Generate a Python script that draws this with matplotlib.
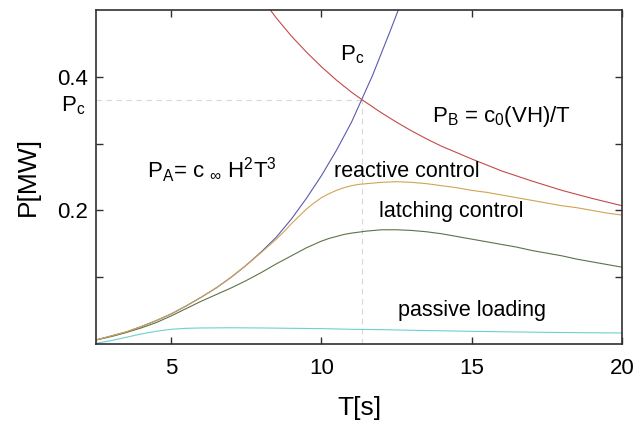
import numpy as np
import matplotlib
matplotlib.use("Agg")
import matplotlib.pyplot as plt
import matplotlib.transforms as mtransforms

plt.rcParams['font.family'] = ['Liberation Sans', 'DejaVu Sans']
plt.rcParams['mathtext.fontset'] = 'custom'
plt.rcParams['mathtext.rm'] = 'Liberation Sans'
plt.rcParams['mathtext.it'] = 'Liberation Sans'
plt.rcParams['mathtext.bf'] = 'Liberation Sans:bold'

# P_A = c H^2 T^3 (blue)
T_a = [2.5, 3.0, 3.5, 4.0, 4.5, 5.0, 5.5, 6.0, 6.5, 7.0, 7.5, 8.0, 8.5, 9.0,
       9.5, 10.0, 10.5, 11.0, 11.34, 11.7, 12.0, 12.3, 12.6, 12.8]
P_a = [0.006, 0.012, 0.018, 0.026, 0.035, 0.045, 0.057, 0.070, 0.084, 0.100,
       0.118, 0.138, 0.160, 0.187, 0.218, 0.252, 0.290, 0.332, 0.366, 0.402,
       0.436, 0.470, 0.505, 0.530]

# P_B = c0 VH / T (red)
T_b = [8.1, 8.5, 9.0, 9.5, 10.0, 10.5, 11.0, 11.34, 12.0, 12.5, 13.0, 13.5,
       14.0, 15.0, 16.0, 17.0, 18.0, 19.0, 20.0]
P_b = [0.512, 0.488, 0.461, 0.437, 0.415, 0.395, 0.377, 0.366, 0.346, 0.332,
       0.319, 0.307, 0.296, 0.277, 0.259, 0.244, 0.230, 0.218, 0.207]

# reactive control (gold)
T_r = [2.5, 3.0, 3.5, 4.0, 4.5, 5.0, 5.5, 6.0, 6.5, 7.0, 7.5, 8.0, 8.25, 8.5,
       8.75, 9.0, 9.25, 9.5, 9.75, 10.0, 10.25, 10.5, 10.75, 11.0, 11.25,
       11.5, 12.0, 12.5, 13.0, 13.5, 14.0, 14.5, 15.0, 15.5, 16.0, 16.5, 17.0,
       17.5, 18.0, 18.5, 19.0, 19.5, 20.0]
P_r = [0.006, 0.012, 0.018, 0.026, 0.035, 0.045, 0.057, 0.070, 0.084, 0.100,
       0.118, 0.137, 0.147, 0.157, 0.168, 0.180, 0.191, 0.202, 0.211, 0.219,
       0.225, 0.230, 0.234, 0.237, 0.239, 0.240, 0.242, 0.243, 0.242, 0.240,
       0.237, 0.234, 0.230, 0.227, 0.223, 0.219, 0.215, 0.211, 0.207, 0.204,
       0.200, 0.196, 0.193]

# latching control (dark green)
T_l = [2.5, 3.0, 3.5, 4.0, 4.5, 5.0, 5.5, 6.0, 6.5, 7.0, 7.5, 8.0, 8.5, 9.0,
       9.25, 9.5, 9.75, 10.0, 10.25, 10.5, 10.75, 11.0, 11.5, 12.0, 12.5,
       13.0, 13.5, 14.0, 14.5, 15.0, 15.5, 16.0, 16.5, 17.0, 17.5, 18.0, 18.5,
       19.0, 19.5, 20.0]
P_l = [0.006, 0.011, 0.017, 0.024, 0.032, 0.042, 0.053, 0.064, 0.074, 0.084,
       0.095, 0.107, 0.120, 0.132, 0.138, 0.144, 0.149, 0.154, 0.158, 0.161,
       0.164, 0.166, 0.169, 0.171, 0.171, 0.170, 0.168, 0.165, 0.161, 0.157,
       0.153, 0.149, 0.145, 0.140, 0.136, 0.132, 0.127, 0.123, 0.119, 0.115]

# passive loading (cyan)
T_p = [2.5, 3.0, 3.5, 4.0, 4.5, 5.0, 5.5, 6.0, 7.0, 8.0, 9.0, 10.0, 11.0,
       12.0, 13.0, 14.0, 15.0, 16.0, 17.0, 18.0, 19.0, 20.0]
P_p = [0.001, 0.005, 0.010, 0.015, 0.019, 0.022, 0.0235, 0.024, 0.0243,
       0.024, 0.0235, 0.023, 0.022, 0.0215, 0.0205, 0.0198, 0.019, 0.0183,
       0.0177, 0.0172, 0.0168, 0.0165]

T_c = 11.34
P_c = 0.366

fig = plt.figure(figsize=(6.41, 4.23), dpi=100)
ax = fig.add_axes([96/641, 1-344/423, 526/641, 334/423])

lw = 0.8
ax.plot(T_a, P_a, color='#5a5ab0', lw=lw)
ax.plot(T_b, P_b, color='#c44a4a', lw=lw)
ax.plot(T_p, P_p, color='#6fcfd0', lw=lw)
ax.plot(T_l, P_l, color='#5c7448', lw=lw)
ax.plot(T_r, P_r, color='#cfa552', lw=lw)

# dashed guides to the crossing point
ax.plot([T_c, T_c], [0, P_c], color='#d8d8d8', lw=0.8, ls=(0, (5, 4)), zorder=0)
ax.plot([2.5, T_c], [P_c, P_c], color='#d8d8d8', lw=0.8, ls=(0, (5, 4)), zorder=0)

ax.set_xlim(2.5, 20)
ax.set_ylim(0, 0.5)
ax.set_xticks([5, 10, 15, 20])
ax.set_yticks([0.2, 0.4])
ax.set_yticks([0.1, 0.3], minor=True)
ax.set_yticklabels(['0.2', '0.4'])
ax.tick_params(which='both', direction='in', top=True, right=True,
               length=5, width=1, color='#303030', labelsize=16)
ax.tick_params(axis='x', pad=10)
ax.tick_params(axis='y', pad=6)
for s in ax.spines.values():
    s.set_linewidth(1.2)
    s.set_color('#303030')

ax.set_xlabel('T[s]', fontsize=19, labelpad=12)
ax.set_ylabel('P[MW]', fontsize=19, labelpad=12)

trans = mtransforms.blended_transform_factory(ax.transAxes, ax.transData)
ax.text(-0.02, 0.348, r'P$_\mathrm{c}$', transform=trans, ha='right',
        va='baseline', fontsize=16)

fs = 15.5
ax.text(12.83, 0.250, 'reactive control', ha='center', va='baseline', fontsize=fs)
ax.text(14.31, 0.1906, 'latching control', ha='center', va='baseline', fontsize=fs)
ax.text(15.02, 0.0419, 'passive loading', ha='center', va='baseline', fontsize=fs)
ax.text(6.37, 0.2485, r'P$_\mathrm{A}$= c $_\infty$ H$^2$T$^3$', ha='center',
        va='baseline', fontsize=16)
ax.text(16.0, 0.3328, r'P$_\mathrm{B}$ = c$_0$(VH)/T', ha='center',
        va='baseline', fontsize=16)
ax.text(10.62, 0.425, r'P$_\mathrm{c}$', ha='left', va='baseline', fontsize=16)

plt.savefig('out.png', dpi=100)
